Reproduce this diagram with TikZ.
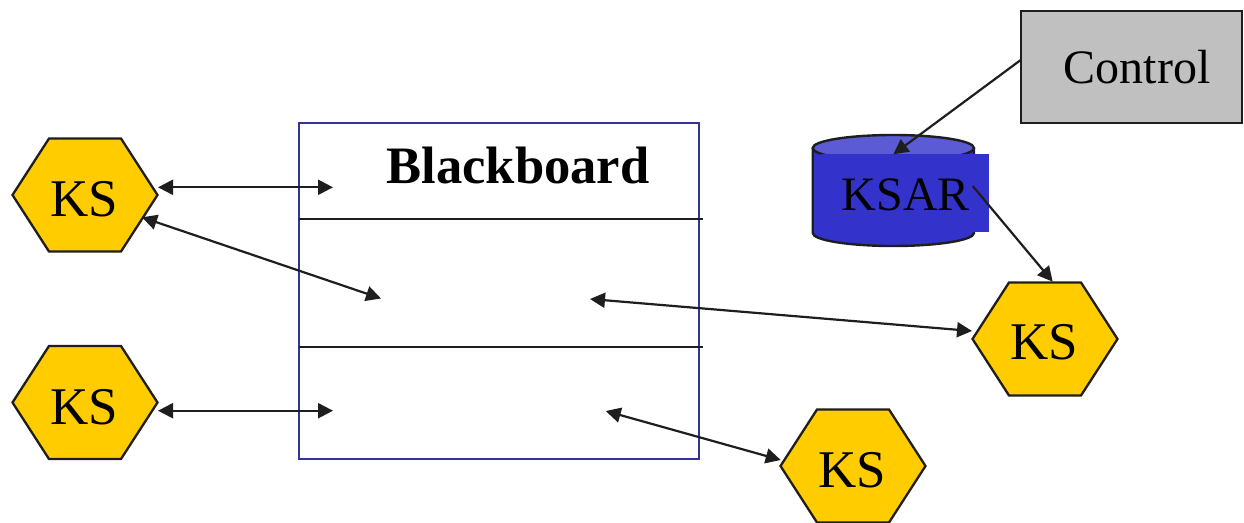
\documentclass[tikz,border=0pt]{standalone}
\usepackage{fontspec}
\setmainfont{Liberation Serif}
\usetikzlibrary{arrows.meta}
\definecolor{ksgold}{HTML}{FFCC00}
\definecolor{bbblue}{HTML}{333399}
\definecolor{ksarblue}{HTML}{3333CC}
\definecolor{ksartop}{HTML}{5B5BD6}
\definecolor{ctrlgray}{HTML}{C0C0C0}
\definecolor{ink}{HTML}{1E1E1E}
\begin{document}
\begin{tikzpicture}[x=1pt,y=-1pt,
  hexshape/.style={draw=ink, fill=ksgold, line width=2.3pt, line join=miter},
  kslabel/.style={font=\fontsize{53}{60}\selectfont, inner sep=0pt, anchor=base},
  biglabel/.style={font=\fontsize{48}{56}\selectfont, inner sep=0pt, anchor=base},
  conn/.style={draw=ink, line width=2.2pt, -{Triangle[length=15pt,width=15pt]}},
  biconn/.style={draw=ink, line width=2.2pt, {Triangle[length=15pt,width=15pt]}-{Triangle[length=15pt,width=15pt]}},
  hexpic/.pic={\draw[hexshape] (-72.5,0) -- (-36,-56.5) -- (36,-56.5) -- (72.5,0) -- (36,56.5) -- (-36,56.5) -- cycle;}
]
\useasboundingbox (0,0) rectangle (1244,522);
\clip (0,0) rectangle (1244,522);

% blackboard
\node[draw=bbblue, line width=2.4pt, minimum width=400pt, minimum height=336pt, inner sep=0pt] (board) at (499,291) {};
\coordinate (l1a) at (299,218.7); \coordinate (l1b) at (703,218.7);
\coordinate (l2a) at (299,346.7); \coordinate (l2b) at (703,346.7);
\draw[ink, line width=2.4pt] (l1a) -- (l1b);
\draw[ink, line width=2.4pt] (l2a) -- (l2b);
\node[font=\bfseries\fontsize{52.6}{60}\selectfont, inner sep=0pt, anchor=base] (bbtitle) at (518,183) {Blackboard};

% knowledge sources
\pic at (85,195) {hexpic};
\pic at (85,402.5) {hexpic};
\pic at (1045,339) {hexpic};
\pic at (853,466) {hexpic};
\node[kslabel] (ks1) at (84,216.5) {KS};
\node[kslabel] (ks2) at (84,424) {KS};
\node[kslabel] (ks3) at (1044,359.5) {KS};
\node[kslabel] (ks4) at (852,487) {KS};

% control
\node[draw=ink, fill=ctrlgray, line width=2.4pt, minimum width=221pt, minimum height=112pt, inner sep=0pt] (control) at (1131.5,67) {};
\node[biglabel] (ctrltext) at (1137,83) {Control};

% KSAR cylinder
\draw[ink, line width=2.4pt, fill=ksarblue] (812.7,148) -- (812.7,233) arc[start angle=180, end angle=360, x radius=80.65pt, y radius=13pt] -- (974,148);
\draw[ink, line width=2.4pt, fill=ksartop] (893.35,148) ellipse[x radius=80.65pt, y radius=13pt];
\node[fill=ksarblue, minimum width=168.6pt, minimum height=77.7pt, inner sep=0pt] (ksar) at (905,192.85) {};
\node[biglabel] (ksartext) at (906,210) {KSAR};

% connector ends
\coordinate (a1a) at (158,187.3); \coordinate (a1b) at (333,187.3);
\coordinate (a2a) at (142,217.3); \coordinate (a2b) at (381,298.5);
\coordinate (a3a) at (158,410.7); \coordinate (a3b) at (333,410.7);
\coordinate (a4a) at (590,299);   \coordinate (a4b) at (972,331);
\coordinate (a5a) at (605.7,411); \coordinate (a5b) at (780.7,460);
\coordinate (a6a) at (1020.7,60); \coordinate (a6b) at (893.3,154.3);
\coordinate (a7a) at (972.7,186); \coordinate (a7b) at (1052.7,281.7);

\draw[biconn] (a1a) -- (a1b);
\draw[biconn] (a2a) -- (a2b);
\draw[biconn] (a3a) -- (a3b);
\draw[biconn] (a4a) -- (a4b);
\draw[biconn] (a5a) -- (a5b);
\draw[conn] (a6a) -- (a6b);
\draw[conn] (a7a) -- (a7b);
\end{tikzpicture}
\end{document}
